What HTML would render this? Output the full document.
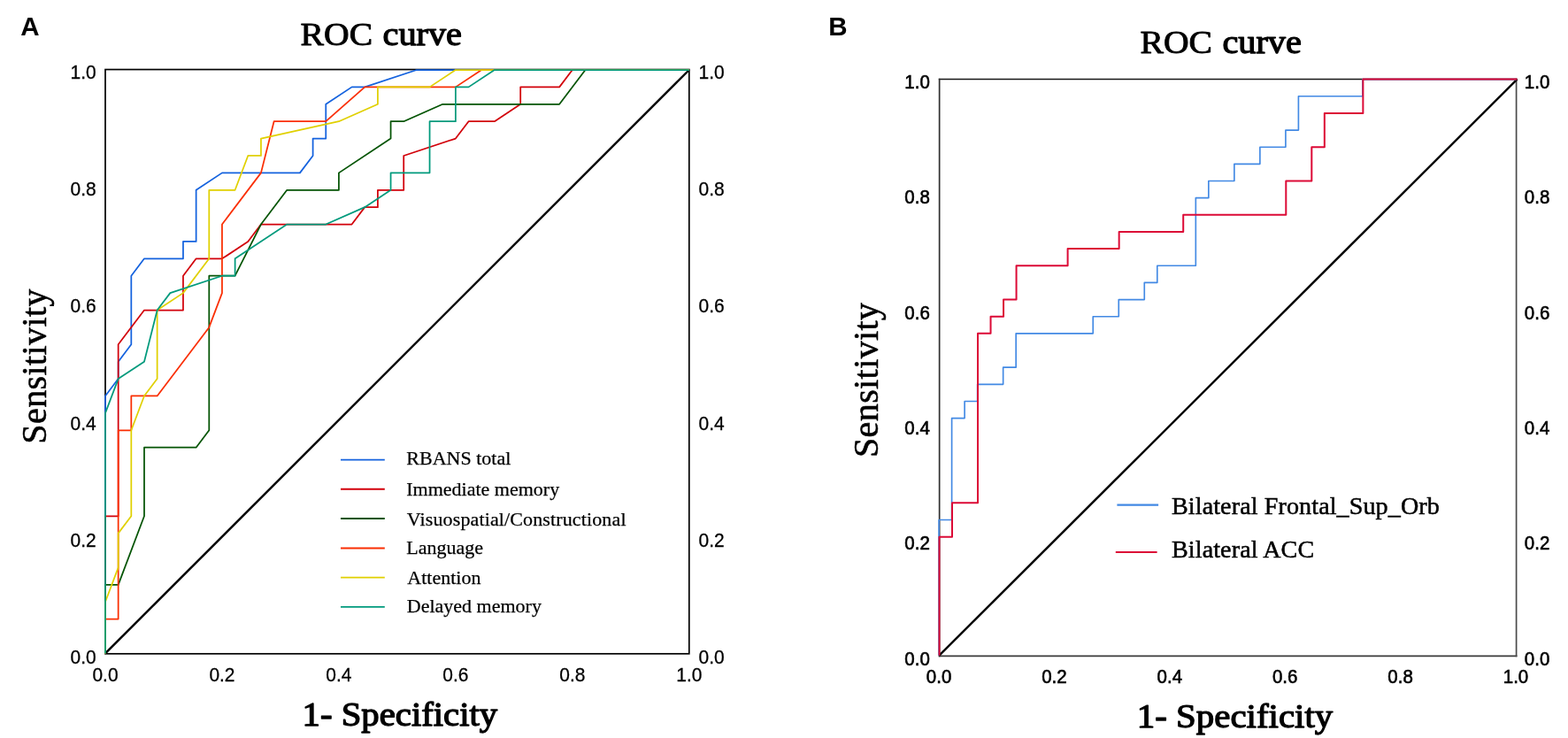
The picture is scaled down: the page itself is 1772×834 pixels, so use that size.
<!DOCTYPE html>
<html lang="en"><head><meta charset="utf-8"><title>ROC curve</title>
<style>
html,body{margin:0;padding:0;background:#fff;}
body{width:1772px;height:834px;overflow:hidden;}
svg{display:block;}
.sans{font-family:"Liberation Sans",Arial,Helvetica,sans-serif;}
.serif{font-family:"Liberation Serif","Times New Roman",Times,serif;}
.tick{font-size:22.3px;fill:#000;stroke:#000;stroke-width:0.3px;}
.leg{font-size:22px;fill:#000;stroke:#000;stroke-width:0.25px;}
.legb{font-size:28.1px;fill:#000;stroke:#000;stroke-width:0.5px;letter-spacing:0.1px;}
.ttl{font-size:37px;fill:#000;stroke:#000;stroke-width:1.2px;stroke-linejoin:round;}
.xl{font-size:37px;fill:#000;stroke:#000;stroke-width:1.3px;stroke-linejoin:round;}
.yl{font-size:40px;fill:#000;stroke:#000;stroke-width:0.55px;letter-spacing:0.4px;}
.pl{font-size:29.5px;font-weight:bold;fill:#000;}
.c{fill:none;stroke-linejoin:round;stroke-linecap:butt;}
</style></head><body>
<svg width="1772" height="834" viewBox="0 0 1772 834">
<rect x="0" y="0" width="1772" height="834" fill="#ffffff"/>
<g>
<rect x="119.00" y="78.55" width="659.80" height="660.25" fill="none" stroke="#000" stroke-width="1.7"/>
<line x1="119.00" y1="738.40" x2="778.80" y2="79.00" stroke="#000" stroke-width="2.4"/>
<path class="c" d="M119.00 738.40 L119.00 447.49 L133.66 428.09 L133.66 408.70 L148.32 389.31 L148.32 311.73 L162.99 292.34 L206.97 292.34 L206.97 272.94 L221.64 272.94 L221.64 214.76 L250.96 195.36 L338.93 195.36 L353.60 175.97 L353.60 156.58 L368.26 156.58 L368.26 117.79 L397.58 98.39 L412.24 98.39 L470.89 79.00 L778.80 79.00" stroke="#1462de" stroke-width="1.75"/>
<path class="c" d="M119.00 738.40 L119.00 583.25 L133.66 583.25 L133.66 389.31 L162.99 350.52 L206.97 350.52 L206.97 311.73 L221.64 292.34 L250.96 292.34 L280.28 272.94 L294.95 253.55 L397.58 253.55 L412.24 234.15 L426.91 234.15 L426.91 214.76 L456.23 214.76 L456.23 175.97 L514.88 156.58 L529.54 137.18 L558.87 137.18 L588.19 117.79 L588.19 98.39 L632.18 98.39 L646.84 79.00 L778.80 79.00" stroke="#d2000a" stroke-width="1.75"/>
<path class="c" d="M119.00 738.40 L119.00 660.82 L133.66 660.82 L162.99 583.25 L162.99 505.67 L221.64 505.67 L236.30 486.28 L236.30 311.73 L265.62 311.73 L294.95 253.55 L324.27 214.76 L382.92 214.76 L382.92 195.36 L441.57 156.58 L441.57 137.18 L456.23 137.18 L500.22 117.79 L632.18 117.79 L661.50 79.00 L778.80 79.00" stroke="#045404" stroke-width="1.75"/>
<path class="c" d="M119.00 738.40 L119.00 699.61 L133.66 699.61 L133.66 486.28 L148.32 486.28 L148.32 447.49 L177.65 447.49 L236.30 369.91 L250.96 331.12 L250.96 253.55 L294.95 195.36 L309.61 137.18 L368.26 137.18 L412.24 98.39 L514.88 98.39 L544.20 79.00 L778.80 79.00" stroke="#fa2e02" stroke-width="1.75"/>
<path class="c" d="M119.00 738.40 L119.00 680.22 L133.66 641.43 L133.66 602.64 L148.32 583.25 L148.32 486.28 L162.99 447.49 L177.65 428.09 L177.65 350.52 L206.97 331.12 L236.30 292.34 L236.30 214.76 L265.62 214.76 L280.28 175.97 L294.95 175.97 L294.95 156.58 L382.92 137.18 L426.91 117.79 L426.91 98.39 L485.56 98.39 L514.88 79.00 L778.80 79.00" stroke="#e0d000" stroke-width="1.75"/>
<path class="c" d="M119.00 738.40 L119.00 466.88 L133.66 428.09 L162.99 408.70 L177.65 350.52 L192.31 331.12 L250.96 311.73 L265.62 311.73 L265.62 292.34 L324.27 253.55 L368.26 253.55 L412.24 234.15 L441.57 214.76 L441.57 195.36 L485.56 195.36 L485.56 137.18 L514.88 137.18 L514.88 98.39 L529.54 98.39 L558.87 79.00 L778.80 79.00" stroke="#009a7c" stroke-width="1.75"/>
</g>
<g>
<line x1="1060.80" y1="741.40" x2="1714.45" y2="741.40" stroke="#3a3a3a" stroke-width="1.7"/>
<line x1="1713.60" y1="88.65" x2="1713.60" y2="742.25" stroke="#4a4a4a" stroke-width="1.7"/>
<line x1="1060.80" y1="89.50" x2="1714.45" y2="89.50" stroke="#161616" stroke-width="1.7"/>
<line x1="1061.65" y1="88.65" x2="1061.65" y2="742.25" stroke="#303030" stroke-width="1.7"/>
<line x1="1061.50" y1="740.70" x2="1714.50" y2="89.60" stroke="#000" stroke-width="2.4"/>
<path class="c" d="M1061.50 740.70 L1061.50 587.50 L1076.01 587.50 L1076.01 472.60 L1090.52 472.60 L1090.52 453.45 L1105.03 453.45 L1105.03 434.30 L1134.06 434.30 L1134.06 415.15 L1148.57 415.15 L1148.57 376.85 L1235.63 376.85 L1235.63 357.70 L1264.66 357.70 L1264.66 338.55 L1293.68 338.55 L1293.68 319.40 L1308.19 319.40 L1308.19 300.25 L1351.72 300.25 L1351.72 223.65 L1366.23 223.65 L1366.23 204.50 L1395.26 204.50 L1395.26 185.35 L1424.28 185.35 L1424.28 166.20 L1453.30 166.20 L1453.30 147.05 L1467.81 147.05 L1467.81 108.75 L1540.37 108.75 L1540.37 89.60 L1714.50 89.60" stroke="#4289e4" stroke-width="1.65" transform="translate(-0.4 0)"/>
<path class="c" d="M1061.50 740.70 L1061.50 606.65 L1076.01 606.65 L1076.01 568.35 L1105.03 568.35 L1105.03 376.85 L1119.54 376.85 L1119.54 357.70 L1134.06 357.70 L1134.06 338.55 L1148.57 338.55 L1148.57 300.25 L1206.61 300.25 L1206.61 281.10 L1264.66 281.10 L1264.66 261.95 L1337.21 261.95 L1337.21 242.80 L1453.30 242.80 L1453.30 204.50 L1482.32 204.50 L1482.32 166.20 L1496.83 166.20 L1496.83 127.90 L1540.37 127.90 L1540.37 89.60 L1714.50 89.60" stroke="#dc0a36" stroke-width="2.0"/>
</g>
<g class="sans tick">
<text transform="translate(108.70 749.60) scale(0.94 1)" text-anchor="end">0.0</text>
<text transform="translate(789.60 749.60) scale(0.94 1)" text-anchor="start">0.0</text>
<text transform="translate(119.00 770.30) scale(0.94 1)" text-anchor="middle">0.0</text>
<text transform="translate(108.70 617.55) scale(0.94 1)" text-anchor="end">0.2</text>
<text transform="translate(789.60 617.55) scale(0.94 1)" text-anchor="start">0.2</text>
<text transform="translate(250.96 770.30) scale(0.94 1)" text-anchor="middle">0.2</text>
<text transform="translate(108.70 485.50) scale(0.94 1)" text-anchor="end">0.4</text>
<text transform="translate(789.60 485.50) scale(0.94 1)" text-anchor="start">0.4</text>
<text transform="translate(382.92 770.30) scale(0.94 1)" text-anchor="middle">0.4</text>
<text transform="translate(108.70 353.45) scale(0.94 1)" text-anchor="end">0.6</text>
<text transform="translate(789.60 353.45) scale(0.94 1)" text-anchor="start">0.6</text>
<text transform="translate(514.88 770.30) scale(0.94 1)" text-anchor="middle">0.6</text>
<text transform="translate(108.70 221.40) scale(0.94 1)" text-anchor="end">0.8</text>
<text transform="translate(789.60 221.40) scale(0.94 1)" text-anchor="start">0.8</text>
<text transform="translate(646.84 770.30) scale(0.94 1)" text-anchor="middle">0.8</text>
<text transform="translate(108.70 89.35) scale(0.94 1)" text-anchor="end">1.0</text>
<text transform="translate(789.60 89.35) scale(0.94 1)" text-anchor="start">1.0</text>
<text transform="translate(778.80 770.30) scale(0.94 1)" text-anchor="middle">1.0</text>
</g>
<g class="sans tick" style="font-size:22.8px;stroke-width:0.65px">
<text transform="translate(1050.80 751.80) scale(0.9 1)" text-anchor="end">0.0</text>
<text transform="translate(1722.80 751.80) scale(0.9 1)" text-anchor="start">0.0</text>
<text transform="translate(1061.05 771.50) scale(0.9 1)" text-anchor="middle">0.0</text>
<text transform="translate(1050.80 621.42) scale(0.9 1)" text-anchor="end">0.2</text>
<text transform="translate(1722.80 621.42) scale(0.9 1)" text-anchor="start">0.2</text>
<text transform="translate(1191.44 771.50) scale(0.9 1)" text-anchor="middle">0.2</text>
<text transform="translate(1050.80 491.04) scale(0.9 1)" text-anchor="end">0.4</text>
<text transform="translate(1722.80 491.04) scale(0.9 1)" text-anchor="start">0.4</text>
<text transform="translate(1321.83 771.50) scale(0.9 1)" text-anchor="middle">0.4</text>
<text transform="translate(1050.80 360.66) scale(0.9 1)" text-anchor="end">0.6</text>
<text transform="translate(1722.80 360.66) scale(0.9 1)" text-anchor="start">0.6</text>
<text transform="translate(1452.22 771.50) scale(0.9 1)" text-anchor="middle">0.6</text>
<text transform="translate(1050.80 230.28) scale(0.9 1)" text-anchor="end">0.8</text>
<text transform="translate(1722.80 230.28) scale(0.9 1)" text-anchor="start">0.8</text>
<text transform="translate(1582.61 771.50) scale(0.9 1)" text-anchor="middle">0.8</text>
<text transform="translate(1050.80 99.90) scale(0.9 1)" text-anchor="end">1.0</text>
<text transform="translate(1722.80 99.90) scale(0.9 1)" text-anchor="start">1.0</text>
<text transform="translate(1713.00 771.50) scale(0.9 1)" text-anchor="middle">1.0</text>
</g>
<text class="sans pl" x="23.3" y="39.9">A</text>
<text class="sans pl" x="936.3" y="39.8">B</text>
<text class="serif ttl" y="50.70"><tspan x="339.60" textLength="81.50" lengthAdjust="spacingAndGlyphs" style="stroke-width:0.9px;font-size:35.8px">ROC</tspan> <tspan x="432.50" textLength="89.50" lengthAdjust="spacingAndGlyphs" style="stroke-width:1.25px">curve</tspan></text>
<text class="serif ttl" y="60.40"><tspan x="1288.50" textLength="81.50" lengthAdjust="spacingAndGlyphs" style="stroke-width:0.9px;font-size:35.8px">ROC</tspan> <tspan x="1381.40" textLength="89.50" lengthAdjust="spacingAndGlyphs" style="stroke-width:1.25px">curve</tspan></text>
<text class="serif xl" x="341.6" y="820.2" textLength="220.6" lengthAdjust="spacingAndGlyphs">1- Specificity</text>
<text class="serif xl" x="1284.8" y="822.2" textLength="221.4" style="stroke-width:1.25px" lengthAdjust="spacingAndGlyphs">1- Specificity</text>
<text class="serif yl" transform="translate(52.3 413.9) rotate(-90)" text-anchor="middle">Sensitivity</text>
<text class="serif yl" transform="translate(992.4 429.3) rotate(-90)" text-anchor="middle">Sensitivity</text>
<g class="serif leg">
<line x1="385.0" y1="519.65" x2="434.8" y2="519.65" stroke="#1462de" stroke-width="1.9"/>
<text x="459.30" y="525.00">RBANS total</text>
<line x1="385.0" y1="552.75" x2="434.8" y2="552.75" stroke="#d2000a" stroke-width="1.9"/>
<text x="459.30" y="559.50">Immediate memory</text>
<line x1="385.0" y1="586.05" x2="434.8" y2="586.05" stroke="#045404" stroke-width="1.9"/>
<text x="459.80" y="593.50" letter-spacing="0.13">Visuospatial/Constructional</text>
<line x1="385.0" y1="619.45" x2="434.8" y2="619.45" stroke="#fa2e02" stroke-width="1.9"/>
<text x="459.30" y="626.30">Language</text>
<line x1="385.0" y1="652.60" x2="434.8" y2="652.60" stroke="#e0d000" stroke-width="1.9"/>
<text x="460.30" y="660.00">Attention</text>
<line x1="385.0" y1="685.90" x2="434.8" y2="685.90" stroke="#009a7c" stroke-width="1.9"/>
<text x="459.80" y="692.00">Delayed memory</text>
</g>
<g class="serif legb">
<line x1="1262.40" y1="570.60" x2="1309.10" y2="570.60" stroke="#4289e4" stroke-width="2.2"/>
<text x="1324" y="581.10">Bilateral Frontal_Sup_Orb</text>
<line x1="1260.80" y1="624.00" x2="1307.60" y2="624.00" stroke="#dc0a36" stroke-width="2.2"/>
<text x="1324" y="630.30">Bilateral ACC</text>
</g>
</svg>
</body></html>
